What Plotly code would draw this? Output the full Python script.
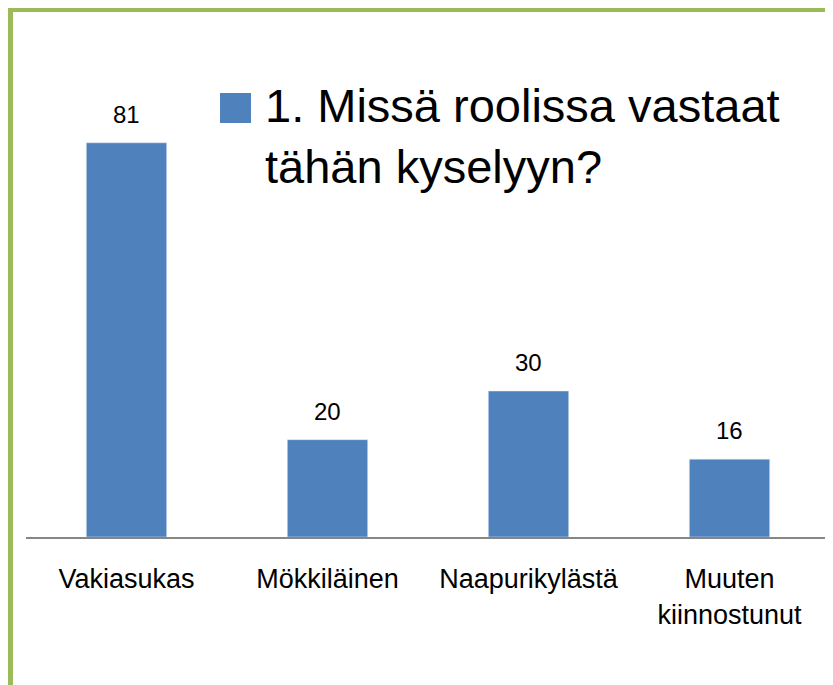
import plotly.graph_objects as go

categories = ["Vakiasukas", "Mökkiläinen", "Naapurikylästä", "Muuten<br>kiinnostunut"]
values = [81, 20, 30, 16]
series_name = "1. Missä roolissa vastaat<br>tähän kyselyyn?"

BAR = "#4F81BD"
GREEN = "#9BBB59"
FONT = "Liberation Sans"

OFF = 8  # page offset of the figure inside the window
W, H = 833 - OFF, 685 - OFF
L, R, T, B = 26 - OFF, 3, 99 - OFF, 685 - 537
pw, ph = W - L - R, H - T - B

def px_x(p):
    return (p - OFF - L) / pw

def px_y(p):
    return (H - B - (p - OFF)) / ph

fig = go.Figure()
fig.add_trace(go.Bar(x=categories, y=values, marker_color=BAR, width=0.4,
                     showlegend=False, name=series_name))

for c, v in zip(categories, values):
    fig.add_annotation(x=c, y=v, text=str(v), showarrow=False, yanchor="bottom",
                       yshift=13, font=dict(family=FONT, size=24, color="#000000"))

# custom legend
fig.add_shape(type="rect", xref="paper", yref="paper",
              x0=px_x(220), x1=px_x(251), y0=px_y(123), y1=px_y(93),
              fillcolor=BAR, line_width=0)
fig.add_annotation(xref="paper", yref="paper", x=px_x(263), y=px_y(136),
                   xanchor="left", yanchor="middle", align="left", showarrow=False,
                   text=series_name, font=dict(family=FONT, size=47, color="#000000"))

# green frame
fig.add_shape(type="rect", xref="paper", yref="paper",
              x0=px_x(8), x1=px_x(845), y0=px_y(12), y1=px_y(0),
              fillcolor=GREEN, line_width=0, layer="above")
fig.add_shape(type="rect", xref="paper", yref="paper",
              x0=px_x(0), x1=px_x(13), y0=px_y(700), y1=px_y(7),
              fillcolor=GREEN, line_width=0, layer="above")

fig.update_layout(
    width=W, height=H,
    margin=dict(l=L, r=R, t=T, b=B, pad=0),
    paper_bgcolor="white", plot_bgcolor="white",
    font=dict(family=FONT, color="#000000"),
    xaxis=dict(showline=True, linecolor="#868686", linewidth=2, ticks="",
               tickfont=dict(family=FONT, size=27, color="#000000"),
               ticklabelstandoff=17, showgrid=False, zeroline=False),
    yaxis=dict(range=[0, 90], visible=False, showgrid=False, zeroline=False),
)

fig.write_html("out.html")
